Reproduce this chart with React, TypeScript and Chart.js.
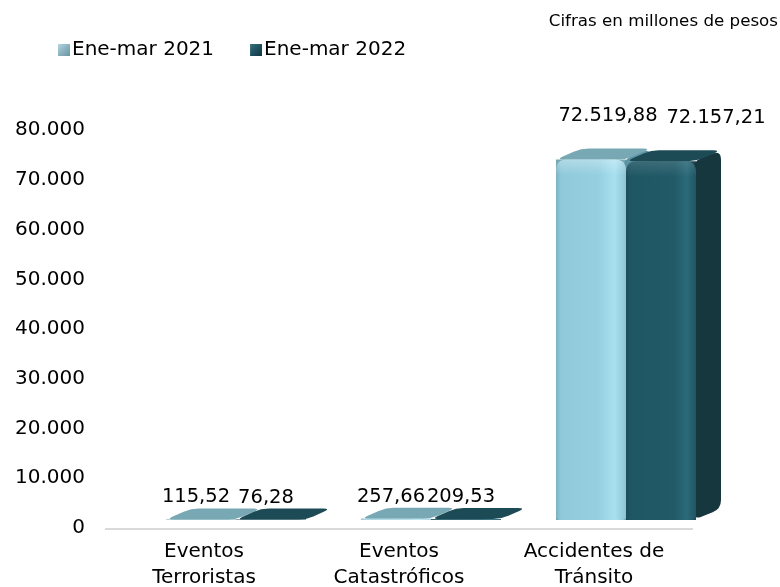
import { useEffect, useRef } from 'react';
import { Chart, registerables } from 'chart.js';

Chart.register(...registerables);

const categories: string[][] = [
  ['Eventos', 'Terroristas'],
  ['Eventos', 'Catastróficos'],
  ['Accidentes de', 'Tránsito'],
];
const seriesNames = ['Ene-mar 2021', 'Ene-mar 2022'];
const values2021 = [115.52, 257.66, 72519.88];
const values2022 = [76.28, 209.53, 72157.21];
const yMin = 0;
const yMax = 80000;
const yStep = 10000;
const subtitleText = 'Cifras en millones de pesos';

const FONT = "'DejaVu Sans', Verdana, sans-serif";
const DX = 25;
const DY = -11;

function fmt(v: number, dec: number): string {
  const s = Math.abs(v).toFixed(dec);
  const parts = s.split('.');
  const int = parts[0].replace(/\B(?=(\d{3})+(?!\d))/g, '.');
  return (v < 0 ? '-' : '') + (parts[1] ? int + ',' + parts[1] : int);
}

const palette = [
  {
    front: [[0, '#7bb3c3'], [0.07, '#8fc9da'], [0.6, '#95cfe0'], [0.84, '#a8e0f0'], [1, '#8cc4d5']],
    top: '#78a8b3',
    side: '#5d93a2',
    bevel: 'rgba(255,255,255,0.3)',
  },
  {
    front: [[0, '#1b4c58'], [0.07, '#1f5663'], [0.7, '#225a68'], [0.87, '#2b6a7a'], [1, '#1f5562']],
    top: '#1c4a55',
    side: '#17373f',
    bevel: 'rgba(255,255,255,0.12)',
  },
];

function roundPoly(ctx: CanvasRenderingContext2D, pts: number[][], r: number) {
  const n = pts.length;
  ctx.beginPath();
  for (let k = 0; k < n; k++) {
    const p = pts[k];
    const a = pts[(k - 1 + n) % n];
    const b = pts[(k + 1) % n];
    const la = Math.hypot(a[0] - p[0], a[1] - p[1]);
    const lb = Math.hypot(b[0] - p[0], b[1] - p[1]);
    const ta = Math.min(r, la / 2);
    const tb = Math.min(r, lb / 2);
    const s = la > 0 ? [p[0] + ((a[0] - p[0]) * ta) / la, p[1] + ((a[1] - p[1]) * ta) / la] : p;
    const e = lb > 0 ? [p[0] + ((b[0] - p[0]) * tb) / lb, p[1] + ((b[1] - p[1]) * tb) / lb] : p;
    if (k === 0) ctx.moveTo(s[0], s[1]);
    else ctx.lineTo(s[0], s[1]);
    ctx.quadraticCurveTo(p[0], p[1], e[0], e[1]);
  }
  ctx.closePath();
}

function drawBar3D(ctx: CanvasRenderingContext2D, x0: number, x1: number, top: number, bottom: number, d: number) {
  const c = palette[d];
  const h = bottom - top;
  if (h > 3) {
    roundPoly(ctx, [[x1 - 3, bottom], [x1 + DX, bottom + DY], [x1 + DX, top + DY], [x1 - 3, top]], 9);
    ctx.fillStyle = c.side;
    ctx.fill();
  }
  roundPoly(ctx, [[x0, top], [x0 + DX, top + DY], [x1 + DX, top + DY], [x1, top]], 8);
  ctx.fillStyle = c.top;
  ctx.fill();
  if (h > 1) {
    const r = Math.min(11, h);
    const rb = Math.min(4, h / 2);
    ctx.beginPath();
    ctx.moveTo(x0 + rb, bottom);
    ctx.quadraticCurveTo(x0, bottom, x0, bottom - rb);
    ctx.lineTo(x0, top + r);
    ctx.quadraticCurveTo(x0, top, x0 + r, top);
    ctx.lineTo(x1 - r, top);
    ctx.quadraticCurveTo(x1, top, x1, top + r);
    ctx.lineTo(x1, bottom - rb);
    ctx.quadraticCurveTo(x1, bottom, x1 - rb, bottom);
    ctx.closePath();
    const g = ctx.createLinearGradient(x0, 0, x1, 0);
    c.front.forEach(([o, col]) => g.addColorStop(o as number, col as string));
    ctx.fillStyle = g;
    ctx.fill();
    const gv = ctx.createLinearGradient(0, top, 0, top + 16);
    gv.addColorStop(0, c.bevel);
    gv.addColorStop(1, 'rgba(255,255,255,0)');
    ctx.fillStyle = gv;
    ctx.fill();
  }
}

const threeDPlugin = {
  id: 'threeD',
  beforeDatasetsDraw(chart: any) {
    const ctx: CanvasRenderingContext2D = chart.ctx;
    const xs = chart.scales.x;
    const ys = chart.scales.y;
    const y0 = ys.getPixelForValue(0) + 9;
    ctx.save();
    ctx.strokeStyle = '#d9d9d9';
    ctx.lineWidth = 2;
    ctx.beginPath();
    ctx.moveTo(xs.left - 33.5, y0);
    ctx.lineTo(xs.right - 30.5, y0);
    ctx.stroke();
    ctx.restore();
  },
  afterDatasetsDraw(chart: any) {
    const ctx: CanvasRenderingContext2D = chart.ctx;
    ctx.save();
    const nd = chart.data.datasets.length;
    for (let i = 0; i < categories.length; i++) {
      for (let d = 0; d < nd; d++) {
        const el = chart.getDatasetMeta(d).data[i];
        const p = el.getProps(['x', 'y', 'base', 'width'], true);
        drawBar3D(ctx, p.x - p.width / 2, p.x + p.width / 2, p.y, p.base, d);
      }
    }
    ctx.font = `19.5px ${FONT}`;
    ctx.fillStyle = '#000';
    ctx.textAlign = 'center';
    ctx.textBaseline = 'middle';
    for (let i = 0; i < categories.length; i++) {
      for (let d = 0; d < nd; d++) {
        const el = chart.getDatasetMeta(d).data[i];
        const p = el.getProps(['x', 'y', 'base'], true);
        const v = chart.data.datasets[d].data[i] as number;
        const tall = p.base - p.y > 30;
        const ox = tall ? [17, 55][d] : -5;
        const oy = tall ? -43 : -22;
        ctx.fillText(fmt(v, 2), p.x + ox, p.y + oy);
      }
    }
    ctx.restore();
  },
};

const legendSpacer = {
  id: 'legendSpacer',
  beforeUpdate(chart: any) {
    const lg = chart.legend;
    if (lg && !lg._spacerPatched) {
      const f = lg.fit;
      lg.fit = function () {
        f.call(this);
        this.height += 52;
      };
      lg._spacerPatched = true;
    }
  },
};

function legendImage(c1: string, c2: string, c3: string): HTMLCanvasElement {
  const cv = document.createElement('canvas');
  cv.width = 48;
  cv.height = 12;
  const ctx = cv.getContext('2d')!;
  const g = ctx.createLinearGradient(36, 0, 48, 12);
  g.addColorStop(0, c1);
  g.addColorStop(0.5, c2);
  g.addColorStop(1, c3);
  ctx.fillStyle = g;
  ctx.fillRect(36, 0, 12, 12);
  return cv;
}

export default function App() {
  const ref = useRef<HTMLCanvasElement>(null);
  useEffect(() => {
    Chart.defaults.font.family = FONT;
    Chart.defaults.color = '#000';
    const imgs = [
      legendImage('#b5d6e0', '#8ab3bf', '#6a95a2'),
      legendImage('#3a6f7c', '#1f5260', '#123640'),
    ];
    const chart = new Chart(ref.current!, {
      type: 'bar',
      data: {
        labels: categories,
        datasets: [
          { label: seriesNames[0], data: values2021, backgroundColor: palette[0].top, borderWidth: 0 },
          { label: seriesNames[1], data: values2022, backgroundColor: palette[1].top, borderWidth: 0 },
        ],
      },
      options: {
        responsive: true,
        maintainAspectRatio: false,
        animation: false,
        events: [],
        datasets: { bar: { categoryPercentage: 0.718, barPercentage: 1 } },
        layout: { padding: { left: 22, right: 2, top: 0, bottom: 0 } },
        plugins: {
          tooltip: { enabled: false },
          title: {
            display: true,
            text: subtitleText,
            align: 'end',
            color: '#000',
            font: { size: 16.7, weight: 'normal', family: FONT },
            padding: { top: 12, bottom: 0.2 },
          },
          legend: {
            display: true,
            position: 'top',
            align: 'start',
            labels: {
              usePointStyle: true,
              pointStyleWidth: 32,
              padding: 8,
              color: '#000',
              font: { size: 20, family: FONT },
              generateLabels: (c: any) =>
                c.data.datasets.map((ds: any, i: number) => ({
                  text: ds.label,
                  pointStyle: imgs[i],
                  fillStyle: 'transparent',
                  strokeStyle: 'transparent',
                  lineWidth: 0,
                  hidden: false,
                  datasetIndex: i,
                  fontColor: '#000',
                })),
            },
          },
        },
        scales: {
          x: {
            type: 'category',
            grid: { display: false, drawTicks: false },
            border: { display: false },
            ticks: {
              color: '#000',
              font: { size: 20, lineHeight: 1.3, family: FONT },
              padding: 19,
              labelOffset: -32,
              maxRotation: 0,
              autoSkip: false,
            },
            afterFit: (s: any) => {
              s.height = 67;
            },
          },
          y: {
            type: 'linear',
            min: yMin,
            max: yMax,
            grid: { display: false, drawTicks: false },
            border: { display: false },
            ticks: {
              stepSize: yStep,
              color: '#000',
              font: { size: 20, family: FONT },
              padding: 53.5,
              labelOffset: 8,
              callback: (v: any) => fmt(Number(v), 0),
            },
            afterFit: (s: any) => {
              s.width = 116.5;
              s._computeLabelArea = () => undefined;
            },
          },
          yPad: {
            type: 'linear',
            position: 'right',
            display: true,
            grid: { display: false, drawTicks: false },
            border: { display: false },
            ticks: { display: false },
            afterFit: (s: any) => {
              s.width = 54.5;
            },
          },
        },
      } as any,
      plugins: [threeDPlugin, legendSpacer] as any,
    });
    return () => chart.destroy();
  }, []);
  return (
    <div style={{ position: 'absolute', left: 0, top: 0, width: 780, height: 587 }}>
      <canvas ref={ref} style={{ display: 'block' }} />
    </div>
  );
}
